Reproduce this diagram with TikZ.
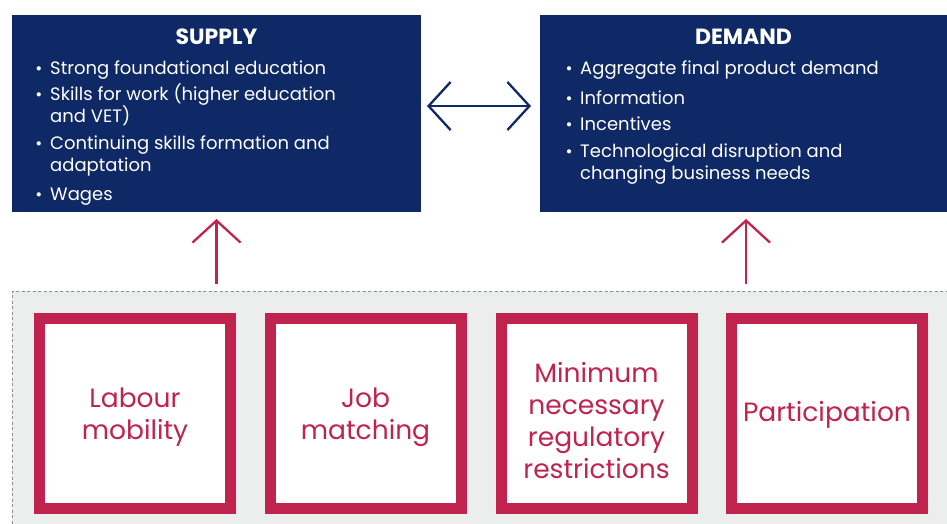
\documentclass[tikz,border=0pt]{standalone}
\usepackage{fontspec}
\setmainfont{Poppins}
\usetikzlibrary{arrows.meta}
\definecolor{navy}{RGB}{14,41,102}
\definecolor{crimson}{RGB}{192,35,78}
\definecolor{panel}{RGB}{236,238,238}
\definecolor{dashgray}{RGB}{140,140,140}
\tikzset{
  bluebox/.style={fill=navy, draw=none, rectangle, inner sep=0pt, outer sep=0pt},
  redbox/.style={fill=white, draw=crimson, line width=11pt, rectangle, inner sep=0pt, outer sep=0pt, minimum width=191pt, minimum height=190pt},
  redtext/.style={text=crimson, align=center, font=\fontsize{26.5}{32}\selectfont},
  boxtitle/.style={text=white, font=\fontsize{22}{24}\selectfont\bfseries, anchor=base},
  item/.style={text=white, font=\fontsize{18}{22.5}\selectfont, anchor=base west, inner sep=0pt, align=left},
  bul/.style={text=white, font=\fontsize{17}{22}\selectfont, anchor=base, inner sep=0pt},
  barb/.style={line width=2.3pt, arrows={-Straight Barb[length=22pt, width=48pt, line width=2.3pt]}},
  dbarb/.style={line width=2.3pt, arrows={Straight Barb[length=22pt, width=48pt, line width=2.3pt]-Straight Barb[length=22pt, width=48pt, line width=2.3pt]}},
}
\begin{document}
\begin{tikzpicture}[x=1pt,y=-1pt]
\useasboundingbox (0,0) rectangle (947,523);
% top boxes
\node[bluebox, minimum width=409pt, minimum height=197pt] (supply) at (216.5,113.5) {};
\node[bluebox, minimum width=420pt, minimum height=197pt] (demand) at (750,113.5) {};
% supply text (base anchor = baseline of last line)
\node[boxtitle] (st) at (216.5,44) {SUPPLY};
\node[bul] (sb1) at (39,74) {•};
\node[item] (s1) at (50,74) {Strong foundational education};
\node[bul] (sb2) at (39,100) {•};
\node[item] (s2) at (50,122.5) {Skills for work (higher education\\and VET)};
\node[bul] (sb3) at (39,149) {•};
\node[item] (s3) at (50,171.5) {Continuing skills formation and\\adaptation};
\node[bul] (sb4) at (39,200) {•};
\node[item] (s4) at (50,200) {Wages};
% demand text
\node[boxtitle] (dt) at (743.5,44) {DEMAND};
\node[bul] (db1) at (569,74) {•};
\node[item] (d1) at (580,74) {Aggregate final product demand};
\node[bul] (db2) at (569,104) {•};
\node[item] (d2) at (580,104) {Information};
\node[bul] (db3) at (569,130) {•};
\node[item] (d3) at (580,130) {Incentives};
\node[bul] (db4) at (569,157) {•};
\node[item] (d4) at (580,179.5) {Technological disruption and\\changing business needs};
% panel
\node[fill=panel, draw=dashgray, line width=1pt, dash pattern=on 3pt off 2.5pt, rectangle, inner sep=0pt, outer sep=0pt, anchor=north west, minimum width=945pt, minimum height=240pt] (panel) at (12,291) {};
% red boxes
\node[redbox] (b1) at (135,413.5) {};
\node[redbox] (b2) at (365.5,413.5) {};
\node[redbox] (b3) at (596.5,413.5) {};
\node[redbox] (b4) at (827,413.5) {};
\node[redtext] (t1) at (135,417) {Labour\\mobility};
\node[redtext] (t2) at (365.5,417) {Job\\matching};
\node[redtext] (t3) at (596.5,421) {Minimum\\necessary\\regulatory\\restrictions};
\node[redtext] (t4) at (827,415) {Participation};
% arrows
\coordinate (mid) at (0,106);
\coordinate (rx) at (746,0);
\draw[dbarb, navy, shorten <=6pt, shorten >=9pt] (supply.east |- mid) -- (demand.west |- mid);
\draw[barb, crimson, shorten <=7pt, shorten >=7pt] (panel.north -| supply.south) -- (supply.south);
\draw[barb, crimson, shorten <=7pt, shorten >=7pt] (panel.north -| rx) -- (demand.south -| rx);
\end{tikzpicture}
\end{document}
